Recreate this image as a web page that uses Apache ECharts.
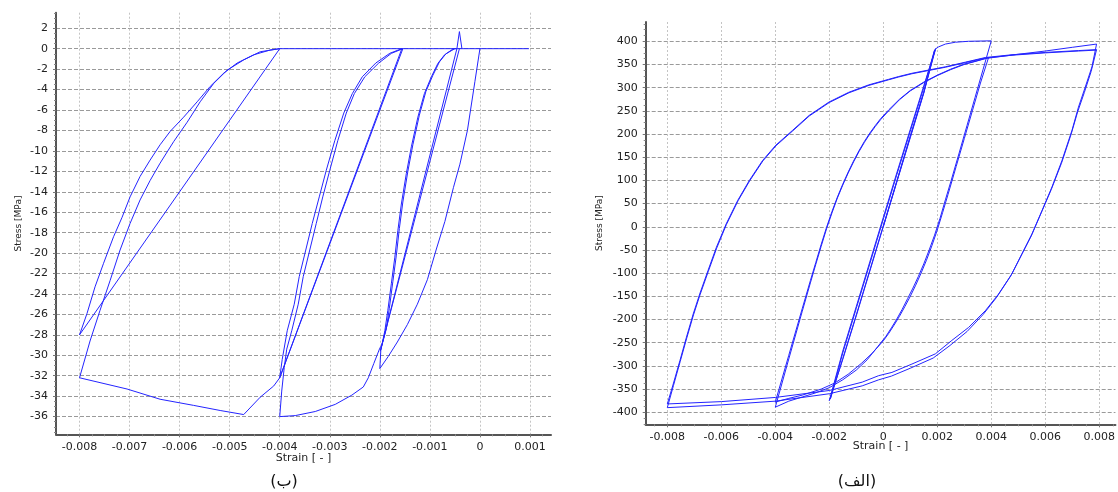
<!DOCTYPE html>
<html>
<head>
<meta charset="utf-8">
<script src="https://cdn.jsdelivr.net/npm/echarts@6/dist/echarts.min.js"></script>
<style>
html,body{margin:0;padding:0;background:#fff;}
#c{width:1118px;height:492px;}
</style>
</head>
<body>
<div id="c"></div>
<script>
// ---------------- DATA ----------------
// Tick labels
const leftXTicks = [-0.008,-0.007,-0.006,-0.005,-0.004,-0.003,-0.002,-0.001,0,0.001];
const leftYTicks = [2,0,-2,-4,-6,-8,-10,-12,-14,-16,-18,-20,-22,-24,-26,-28,-30,-32,-34,-36];
const rightXTicks = [-0.008,-0.006,-0.004,-0.002,0,0.002,0.004,0.006,0.008];
const rightYTicks = [400,350,300,250,200,150,100,50,0,-50,-100,-150,-200,-250,-300,-350,-400];

const xName = 'Strain [ - ]';
const yName = 'Stress [MPa]';
const captionLeft = '(ب)';
const captionRight = '(الف)';

// Left panel (ب): concrete cyclic response, [strain, stress]
const cEnvelope1 = [[0,0],[-0.0001,-3.2],[-0.00025,-8.0],[-0.0004,-11.3],[-0.00053,-13.6],[-0.0007,-16.9],[-0.00087,-19.6],[-0.00105,-22.6],[-0.00125,-25.0],[-0.00145,-27.0],[-0.00165,-28.7],[-0.00183,-30.1],[-0.002,-31.3]];
const cUnload1 = [[-0.002,-31.3],[-0.00198,-29.5],[-0.0019,-27.6],[-0.00184,-25.6],[-0.00177,-23.0],[-0.0017,-20.4],[-0.00164,-17.8],[-0.00157,-15.2],[-0.00147,-12.2],[-0.00137,-9.6],[-0.00124,-6.7],[-0.00111,-4.4],[-0.00097,-2.75],[-0.00084,-1.44],[-0.00071,-0.62],[-0.00053,0]];
const cSpike = [[-0.00053,0],[-0.00046,0],[-0.00041,1.67],[-0.00036,0]];
const cReload1 = [[-0.00046,0],[-0.00199,-29.6]];
const cUnload2 = [[-0.00199,-29.6],[-0.00187,-27.4],[-0.00181,-25.4],[-0.00174,-22.8],[-0.00167,-20.2],[-0.00161,-17.6],[-0.00154,-15.0],[-0.00144,-12.0],[-0.00134,-9.4],[-0.00121,-6.5],[-0.00108,-4.2],[-0.00094,-2.6],[-0.00081,-1.3],[-0.00068,-0.5],[-0.0005,0]];
const cReload2 = [[-0.00041,0],[-0.00196,-29.0],[-0.002,-29.3]];
const cEnvelope2 = [[-0.002,-29.3],[-0.00212,-30.8],[-0.00223,-32.2],[-0.00233,-33.1],[-0.00256,-33.9],[-0.00289,-34.8],[-0.00329,-35.5],[-0.00369,-35.9],[-0.004,-36.0]];
const cUnload3 = [[-0.004,-36.0],[-0.00396,-33.5],[-0.00391,-31.2],[-0.00386,-29.4],[-0.00376,-27.6],[-0.00363,-25.0],[-0.00353,-22.3],[-0.0034,-19.7],[-0.00327,-17.1],[-0.00314,-14.5],[-0.003,-11.9],[-0.00284,-9.0],[-0.00267,-6.3],[-0.00251,-4.4],[-0.0023,-2.75],[-0.00203,-1.44],[-0.00177,-0.46],[-0.00154,0]];
const cReload3 = [[-0.00154,0],[-0.004,-32.2]];
const cUnload4 = [[-0.004,-32.2],[-0.00395,-30.4],[-0.00385,-27.6],[-0.00371,-25.0],[-0.00361,-22.3],[-0.00348,-19.7],[-0.00335,-17.1],[-0.00321,-14.5],[-0.00307,-11.9],[-0.0029,-9.0],[-0.00272,-6.3],[-0.00255,-4.4],[-0.00235,-2.75],[-0.00208,-1.4],[-0.0018,-0.45],[-0.00156,0]];
const cReload4 = [[-0.00156,0],[-0.004,-32.2]];
const cEnvelope3 = [[-0.004,-32.2],[-0.00412,-33.0],[-0.00439,-34.1],[-0.00472,-35.8],[-0.00519,-35.4],[-0.00572,-34.9],[-0.00639,-34.3],[-0.00705,-33.3],[-0.008,-32.2]];
const cUnload5 = [[-0.008,-32.2],[-0.00779,-28.6],[-0.00759,-25.6],[-0.00739,-22.7],[-0.00719,-19.7],[-0.00699,-17.1],[-0.00679,-14.8],[-0.00659,-12.9],[-0.00639,-11.2],[-0.00612,-9.1],[-0.00585,-7.2],[-0.00559,-5.2],[-0.00532,-3.4],[-0.00505,-2.1],[-0.00472,-1.1],[-0.00439,-0.3],[-0.004,0]];
const cReload5 = [[-0.004,0],[-0.008,-28.0]];
const cUnload6 = [[-0.008,-28.0],[-0.00785,-25.9],[-0.00769,-23.3],[-0.00752,-21.0],[-0.00732,-18.4],[-0.00715,-16.5],[-0.00699,-14.5],[-0.00679,-12.5],[-0.00659,-10.9],[-0.00639,-9.4],[-0.00619,-8.1],[-0.00592,-6.7],[-0.00565,-5.2],[-0.00539,-3.7],[-0.00512,-2.4],[-0.00485,-1.4],[-0.00452,-0.6],[-0.00419,-0.13],[-0.004,0]];
const cTension = [[-0.004,0],[0.00098,0]];

// Right panel (الف): steel cyclic response, [strain, stress]
const sSmallUp1 = [[0,0],[0.0005,98],[0.001,196],[0.0015,290],[0.0019,381]];
const sSmallDown1 = [[0.0019,381],[0.0015,300],[0.001,206],[0.0005,112],[0,16],[-0.0005,-80],[-0.001,-176],[-0.0015,-272],[-0.00196,-371]];
const sSmallUp2 = [[-0.00196,-371],[-0.0015,-284],[-0.001,-190],[-0.0005,-94],[0,2],[0.0005,98],[0.001,194],[0.0015,290],[0.00194,384]];
const sSmallDown2 = [[0.00194,384],[0.0015,304],[0.001,210],[0.0005,116],[0,20],[-0.0005,-76],[-0.001,-172],[-0.0015,-268],[-0.002,-375]];
const sSmallUp3 = [[-0.002,-375],[-0.0015,-286],[-0.001,-192],[-0.0005,-96],[0,0],[0.0005,96],[0.001,192],[0.0015,288],[0.00192,383],[0.00205,388],[0.0023,394],[0.00267,398],[0.00316,400],[0.004,401]];
const sMidDown1 = [[0.004,401],[0.0037,340],[0.0034,279],[0.0031,218],[0.0028,157],[0.0025,97],[0.0023,58],[0.0021,18],[0.0019,-18],[0.0017,-50],[0.0015,-80],[0.0013,-107],[0.0011,-132],[0.0009,-155],[0.0007,-178],[0.0005,-199],[0.0003,-218],[0.0001,-236],[-0.0002,-258],[-0.0006,-287],[-0.001,-309],[-0.0015,-330],[-0.002,-347],[-0.0025,-358],[-0.003,-367],[-0.0035,-376],[-0.004,-389]];
const sMidUp1 = [[-0.004,-389],[-0.0035,-285],[-0.003,-182],[-0.0027,-121],[-0.0025,-81],[-0.0023,-42],[-0.0021,-4],[-0.0019,30],[-0.0017,62],[-0.0015,90],[-0.0013,116],[-0.0011,140],[-0.0009,162],[-0.0007,182],[-0.0005,200],[-0.0003,216],[-0.0001,231],[0.0002,250],[0.0006,274],[0.001,293],[0.0015,311],[0.002,326],[0.0025,339],[0.003,350],[0.0035,358],[0.0039,365]];
const sMidDown2 = [[0.0039,365],[0.0036,310],[0.0033,250],[0.003,190],[0.0027,130],[0.0024,70],[0.0022,31],[0.002,-7],[0.0018,-41],[0.0016,-72],[0.0014,-100],[0.0012,-126],[0.001,-150],[0.0008,-172],[0.0006,-193],[0.0004,-212],[0.0002,-230],[0,-246],[-0.0004,-272],[-0.0008,-294],[-0.0013,-318],[-0.0018,-337],[-0.0023,-350],[-0.003,-363],[-0.0035,-370],[-0.004,-378]];
const sMidUp2 = [[-0.004,-378],[-0.0035,-277],[-0.003,-176],[-0.0027,-116],[-0.0025,-77],[-0.0023,-38],[-0.0021,-1],[-0.0019,33],[-0.0017,64],[-0.0015,92],[-0.0013,118],[-0.0011,142],[-0.0009,164],[-0.0007,184],[-0.0005,202],[-0.0003,218],[-0.0001,233],[0.0002,252],[0.0006,275],[0.001,294],[0.0015,312],[0.002,327],[0.0025,340],[0.003,351],[0.0038,363],[0.005,372],[0.006,379],[0.007,387],[0.0079,394]];
const sBigDown1 = [[0.0079,394],[0.00773,345],[0.00748,301],[0.00723,258],[0.00699,208],[0.00662,143],[0.00625,86],[0.00588,35],[0.00551,-15],[0.00514,-58],[0.00477,-101],[0.00427,-145],[0.00378,-181],[0.00316,-217],[0.00254,-245],[0.00193,-274],[0.00106,-296],[0.00032,-314],[-0.00017,-321],[-0.00078,-335],[-0.002,-353],[-0.004,-368],[-0.006,-377],[-0.008,-382]];
const sBigUp1 = [[-0.008,-382],[-0.00778,-339],[-0.00753,-288],[-0.00729,-238],[-0.00704,-188],[-0.0068,-145],[-0.00649,-94],[-0.00618,-44],[-0.00582,6],[-0.00539,57],[-0.00496,100],[-0.00447,143],[-0.00398,176],[-0.00336,208],[-0.00275,240],[-0.00201,269],[-0.00128,290],[-0.00054,306],[0.0002,318],[0.00057,324],[0.00106,331],[0.00168,338],[0.0023,345],[0.00304,355],[0.00378,365],[0.00477,371],[0.006,376],[0.00723,380],[0.0079,382]];
const sBigDown2 = [[0.0079,382],[0.0077,335],[0.00745,290],[0.0072,248],[0.00696,200],[0.0066,137],[0.00622,80],[0.00585,30],[0.00548,-20],[0.0051,-63],[0.00472,-106],[0.0042,-152],[0.0037,-189],[0.0031,-226],[0.00247,-256],[0.00185,-283],[0.001,-305],[0.0003,-322],[-0.00017,-330],[-0.00078,-343],[-0.002,-360],[-0.004,-376],[-0.006,-384],[-0.008,-390]];
const sBigUp2 = [[-0.008,-390],[-0.00777,-342],[-0.00752,-290],[-0.00728,-240],[-0.00703,-190],[-0.00679,-147],[-0.00648,-96],[-0.00617,-46],[-0.00581,5],[-0.00538,56],[-0.00495,99],[-0.00446,142],[-0.00397,175],[-0.00335,207],[-0.00274,239],[-0.002,268],[-0.00127,289],[-0.00053,305],[0.0002,317],[0.00057,323],[0.00106,330],[0.00168,337],[0.0023,344],[0.00304,354],[0.00378,364],[0.00477,370],[0.006,375],[0.00723,379],[0.0079,381]];

// ---------------- CHART ----------------
const leftBranches = [cEnvelope1,cUnload1,cSpike,cReload1,cUnload2,cReload2,cEnvelope2,cUnload3,cReload3,cUnload4,cReload4,cEnvelope3,cUnload5,cReload5,cUnload6,cTension];
const rightBranches = [sSmallUp1,sSmallDown1,sSmallUp2,sSmallDown2,sSmallUp3,sMidDown1,sMidUp1,sMidDown2,sMidUp2,sBigDown1,sBigUp1,sBigDown2,sBigUp2];

function minorOf(major, min, max, n){
  const s = major.slice().sort((a,b)=>a-b);
  const step = (s[1]-s[0])/n;
  const out = [];
  for(let v = s[0]-step; v > min; v -= step) out.push(v);
  for(let i=0;i<s.length;i++){
    for(let k=1;k<n;k++){ const v = s[i]+k*step; if(v<max) out.push(v); }
  }
  return out;
}

const FONT = 'DejaVu Sans';
const lineColor = '#2424ff';
const fmt = v => String(v);

function mainX(grid, ticks, min, max, nameGap){
  return {
    type:'value', gridIndex:grid, min:min, max:max, position:'bottom',
    name:xName, nameLocation:'middle', nameGap:nameGap, nameMoveOverlap:false,
    nameTextStyle:{fontFamily:FONT,fontSize:11,color:'#222'},
    axisLine:{show:true,onZero:false,lineStyle:{color:'#555',width:2}},
    axisTick:{show:true,customValues:ticks,length:3,lineStyle:{color:'#777'}},
    axisLabel:{show:true,customValues:ticks,formatter:fmt,margin:7,fontFamily:FONT,fontSize:11,color:'#222'},
    splitLine:{show:true,lineStyle:{color:'#c4c4c4',type:[2,2],width:1}},
    minorTick:{show:false}
  };
}
function minorX(grid, ticks, min, max){
  return {
    type:'value', gridIndex:grid, min:min, max:max, position:'bottom',
    axisLine:{show:false,onZero:false},
    axisTick:{show:true,customValues:minorOf(ticks,min,max,4),length:2,lineStyle:{color:'#888'}},
    axisLabel:{show:false}, splitLine:{show:false}
  };
}
function mainY(grid, ticks, min, max, nameGap){
  return {
    type:'value', gridIndex:grid, min:min, max:max, position:'left',
    name:yName, nameLocation:'middle', nameGap:nameGap, nameMoveOverlap:false,
    nameTextStyle:{fontFamily:FONT,fontSize:9,color:'#222'},
    axisLine:{show:true,onZero:false,lineStyle:{color:'#555',width:2}},
    axisTick:{show:true,customValues:ticks,length:3,lineStyle:{color:'#777'}},
    axisLabel:{show:true,customValues:ticks,formatter:fmt,margin:8,fontFamily:FONT,fontSize:11,color:'#222'},
    splitLine:{show:true,lineStyle:{color:'#9a9a9a',type:[4,2],width:1}}
  };
}
function minorY(grid, ticks, min, max){
  return {
    type:'value', gridIndex:grid, min:min, max:max, position:'left',
    axisLine:{show:false,onZero:false},
    axisTick:{show:true,customValues:minorOf(ticks,min,max,4),length:2,lineStyle:{color:'#888'}},
    axisLabel:{show:false}, splitLine:{show:false}
  };
}

const LX = [-0.00847, 0.00142], LY = [-37.73, 3.52];
const RX = [-0.0088, 0.0086], RY = [-425.9, 441.6];

const series = [];
leftBranches.forEach(d => series.push({type:'line',xAxisIndex:0,yAxisIndex:0,data:d,showSymbol:false,symbol:'none',lineStyle:{color:lineColor,width:1},silent:true}));
rightBranches.forEach(d => series.push({type:'line',xAxisIndex:2,yAxisIndex:2,data:d,showSymbol:false,symbol:'none',lineStyle:{color:lineColor,width:1},silent:true}));

const chart = echarts.init(document.getElementById('c'), null, {renderer:'canvas'});
chart.setOption({
  animation:false,
  backgroundColor:'#fff',
  grid:[
    {left:56, top:12.7, width:495, height:421.6},
    {left:645.7, top:22, width:471.3, height:402.3}
  ],
  xAxis:[
    mainX(0, leftXTicks, LX[0], LX[1], 18),
    minorX(0, leftXTicks, LX[0], LX[1]),
    mainX(1, rightXTicks, RX[0], RX[1], 16),
    minorX(1, rightXTicks, RX[0], RX[1])
  ],
  yAxis:[
    mainY(0, leftYTicks, LY[0], LY[1], 33),
    minorY(0, leftYTicks, LY[0], LY[1]),
    mainY(1, rightYTicks, RY[0], RY[1], 42),
    minorY(1, rightYTicks, RY[0], RY[1])
  ],
  series: series,
  graphic:[
    {type:'text', x:284, y:482, style:{text:captionLeft, align:'center', verticalAlign:'middle', font:'16px "DejaVu Sans"', fill:'#111'}},
    {type:'text', x:857, y:482, style:{text:captionRight, align:'center', verticalAlign:'middle', font:'16px "DejaVu Sans"', fill:'#111'}}
  ]
});
</script>
</body>
</html>
